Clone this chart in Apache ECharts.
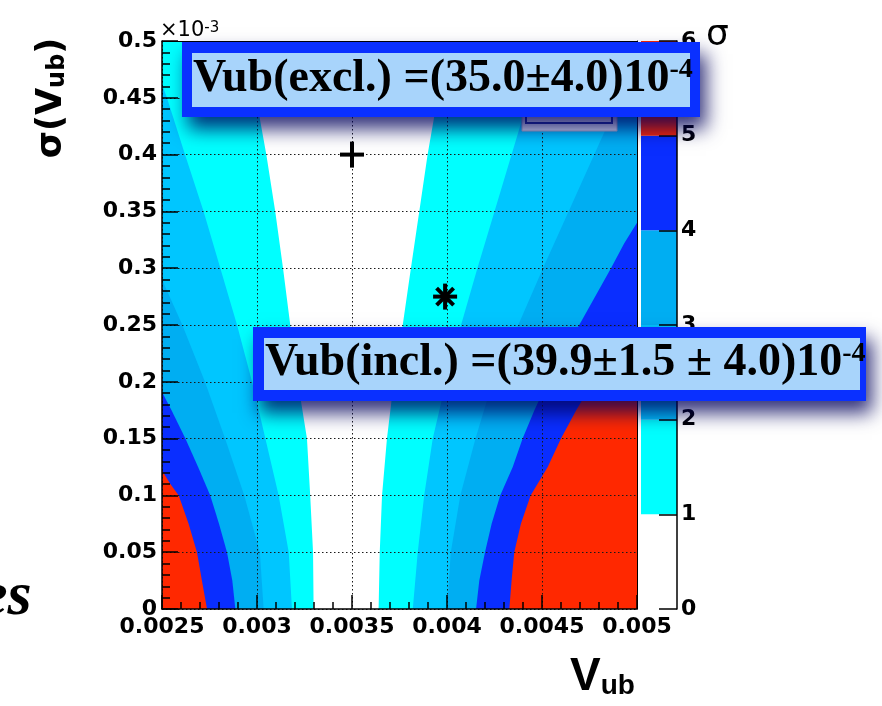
<!DOCTYPE html>
<html><head><meta charset="utf-8">
<script src="https://cdn.jsdelivr.net/npm/echarts@6/dist/echarts.min.js"></script>
<style>html,body{margin:0;padding:0;background:#fff;} #c{width:882px;height:706px;}</style>
</head><body><div id="c"></div>
<script>
// ---- tick labels ----
const xTickLabels = ['0.0025','0.003','0.0035','0.004','0.0045','0.005'];
const yTickLabels = ['0','0.05','0.1','0.15','0.2','0.25','0.3','0.35','0.4','0.45','0.5'];
const zTickLabels = ['0','1','2','3','4','5','6'];

// ---- contour boundaries, [Vub (1e-3), sigma(Vub) (1e-3)] ----
// left side: region between the left frame and the boundary has significance >= level
const left1 = [[3.298,0],[3.295,0.05],[3.28,0.1],[3.263,0.15],[3.215,0.2],[3.175,0.25],[3.137,0.3],[3.096,0.35],[3.049,0.4],[2.995,0.45],[2.945,0.5]];
const left2 = [[3.184,0],[3.167,0.05],[3.114,0.1],[3.044,0.15],[2.974,0.2],[2.895,0.25],[2.807,0.3],[2.719,0.35],[2.621,0.4],[2.526,0.45],[2.5,0.462]];
const left3 = [[3.035,0],[3.015,0.05],[2.933,0.1],[2.832,0.15],[2.726,0.2],[2.607,0.25],[2.5,0.29]];
const left4 = [[2.886,0],[2.87,0.025],[2.842,0.05],[2.80,0.075],[2.754,0.1],[2.69,0.125],[2.623,0.15],[2.55,0.175],[2.5,0.191]];
const left5 = [[2.737,0],[2.71,0.025],[2.684,0.05],[2.64,0.075],[2.588,0.1],[2.544,0.11],[2.5,0.122]];
// right side: region between the boundary and the right frame has significance >= level
const right1 = [[3.64,0],[3.646,0.05],[3.658,0.1],[3.684,0.15],[3.72,0.2],[3.767,0.25],[3.81,0.3],[3.854,0.35],[3.898,0.4],[3.95,0.45],[4.0,0.5]];
const right2 = [[3.82,0],[3.846,0.05],[3.88,0.1],[3.925,0.15],[3.995,0.2],[4.074,0.25],[4.16,0.3],[4.25,0.35],[4.34,0.4],[4.43,0.45],[4.52,0.5]];
const right3 = [[4.0,0],[4.02,0.05],[4.07,0.1],[4.15,0.15],[4.24,0.2],[4.375,0.25],[4.505,0.3],[4.64,0.35],[4.775,0.4],[4.91,0.45],[5.0,0.48]];
const right4 = [[4.153,0],[4.17,0.025],[4.2,0.05],[4.235,0.075],[4.28,0.1],[4.346,0.125],[4.398,0.15],[4.46,0.175],[4.53,0.2],[4.61,0.225],[4.696,0.25],[4.863,0.3],[4.933,0.322],[5.0,0.34]];
const right5 = [[4.328,0],[4.34,0.025],[4.354,0.05],[4.389,0.075],[4.44,0.1],[4.53,0.125],[4.6,0.15],[4.68,0.175],[4.77,0.2],[4.87,0.225],[5.0,0.248]];

const levelColors = ['#00ffff','#00c6ff','#00aef2','#0a2eff','#ff2800'];
const colorbarBounds = [0,1,2,3,4,5,6];
const colorbarColors = ['#ffffff','#00ffff','#00c6ff','#00aef2','#0a2eff','#ff2800'];

// ---- markers ----
const plusPoint = [[3.5, 0.4]];
const starPoint = [[3.99, 0.275]];

const leftBounds = [left1,left2,left3,left4,left5];
const rightBounds = [right1,right2,right3,right4,right5];

function regionSeries(points, edge, color, z) {
  return {
    type: 'custom', coordinateSystem: 'cartesian2d', xAxisIndex: 0, yAxisIndex: 0,
    z: z, silent: true, clip: true, data: points,
    renderItem: function (params, api) {
      if (params.dataIndex !== 0) return null;
      const first = points[0], last = points[points.length - 1];
      const pts = [[edge, first[1]]].concat(points, [[edge, last[1]]]).map(function (p) { return api.coord(p); });
      return { type: 'polygon', shape: { points: pts }, style: { fill: color } };
    }
  };
}

const series = [];
for (let k = 0; k < 5; k++) {
  series.push(regionSeries(leftBounds[k], 2.5, levelColors[k], 1 + k * 0.01));
  series.push(regionSeries(rightBounds[k], 5.0, levelColors[k], 1 + k * 0.01));
}
series.push({
  type: 'custom', xAxisIndex: 0, yAxisIndex: 0, z: 5, silent: true, data: plusPoint,
  renderItem: function (params, api) {
    const c = api.coord([api.value(0), api.value(1)]);
    const st = { stroke: '#000', lineWidth: 4 };
    return { type: 'group', children: [
      { type: 'line', shape: { x1: c[0] - 12, y1: c[1], x2: c[0] + 12, y2: c[1] }, style: st },
      { type: 'line', shape: { x1: c[0], y1: c[1] - 13, x2: c[0], y2: c[1] + 13 }, style: st }
    ]};
  }
});
series.push({
  type: 'custom', xAxisIndex: 0, yAxisIndex: 0, z: 5, silent: true, data: starPoint,
  renderItem: function (params, api) {
    const c = api.coord([api.value(0), api.value(1)]);
    const st = { stroke: '#000', lineWidth: 4 };
    const r = 12, d = 8.5;
    return { type: 'group', children: [
      { type: 'line', shape: { x1: c[0] - r, y1: c[1], x2: c[0] + r, y2: c[1] }, style: st },
      { type: 'line', shape: { x1: c[0], y1: c[1] - r - 1, x2: c[0], y2: c[1] + r + 1 }, style: st },
      { type: 'line', shape: { x1: c[0] - d, y1: c[1] - d, x2: c[0] + d, y2: c[1] + d }, style: st },
      { type: 'line', shape: { x1: c[0] - d, y1: c[1] + d, x2: c[0] + d, y2: c[1] - d }, style: st }
    ]};
  }
});
for (let i = 0; i < colorbarColors.length; i++) {
  series.push({
    type: 'bar', xAxisIndex: 2, yAxisIndex: 2, stack: 'cb', barWidth: '100%', silent: true,
    data: [colorbarBounds[i + 1] - colorbarBounds[i]],
    itemStyle: { color: colorbarColors[i] }
  });
}

const labelFont = { fontFamily: 'DejaVu Sans', fontWeight: 'bold', fontSize: 22, color: '#000' };
const gridLine = { show: true, lineStyle: { color: '#1a1a1a', type: [1.5, 2.5], width: 1 } };
const boxRich = {
  m: { font: 'bold 46px "Liberation Serif"', fill: '#000', color: '#000' },
  s: { font: 'bold 28px "Liberation Serif"', fill: '#000', color: '#000', verticalAlign: 'top' }
};

const option = {
  animation: false,
  backgroundColor: '#fff',
  grid: [
    { left: 162, top: 41, width: 475, height: 568 },
    { left: 641, top: 41, width: 36, height: 568 }
  ],
  xAxis: [
    { type: 'value', gridIndex: 0, min: 2.5, max: 5.0, interval: 0.5, z: 3,
      axisLine: { show: true, onZero: false, lineStyle: { color: '#000', width: 1.5 } },
      axisTick: { show: true, inside: true, length: 14, lineStyle: { color: '#000', width: 1.5 } },
      minorTick: { show: true, splitNumber: 5, length: 7, lineStyle: { color: '#000', width: 1.5 } },
      splitLine: gridLine,
      axisLabel: Object.assign({ margin: 7, formatter: function (v) { return xTickLabels[Math.round((v - 2.5) / 0.5)]; } }, labelFont) },
    { type: 'value', gridIndex: 0, min: 2.5, max: 5.0, position: 'top', z: 3,
      axisLine: { show: true, onZero: false, lineStyle: { color: '#000', width: 1 } },
      axisTick: { show: false }, axisLabel: { show: false }, splitLine: { show: false } },
    { type: 'category', gridIndex: 1, data: ['σ'], show: false }
  ],
  yAxis: [
    { type: 'value', gridIndex: 0, min: 0, max: 0.5, interval: 0.05, z: 3,
      axisLine: { show: true, onZero: false, lineStyle: { color: '#000', width: 1.5 } },
      axisTick: { show: true, inside: true, length: 16, lineStyle: { color: '#000', width: 1.5 } },
      minorTick: { show: true, splitNumber: 5, length: 8, lineStyle: { color: '#000', width: 1.5 } },
      splitLine: gridLine,
      axisLabel: Object.assign({ margin: 5, padding: [6, 0, 0, 0], formatter: function (v) { return yTickLabels[Math.round(v / 0.05)]; } }, labelFont) },
    { type: 'value', gridIndex: 0, min: 0, max: 0.5, position: 'right', z: 3,
      axisLine: { show: true, onZero: false, lineStyle: { color: '#000', width: 1 } },
      axisTick: { show: false }, axisLabel: { show: false }, splitLine: { show: false } },
    { type: 'value', gridIndex: 1, min: 0, max: 6, interval: 1, position: 'right', z: 3,
      axisLine: { show: true, lineStyle: { color: '#000', width: 1.5 } },
      axisTick: { show: true, inside: true, length: 18, lineStyle: { color: '#000', width: 1.5 } },
      splitLine: { show: false },
      axisLabel: Object.assign({ margin: 4, padding: [8, 0, 0, 0], formatter: function (v) { return zTickLabels[Math.round(v)]; } }, labelFont) }
  ],
  series: series,
  graphic: [
    // partly hidden legend box
    { type: 'rect', z: 90, shape: { x: 522, y: 100, width: 95, height: 31 }, style: { fill: '#dfe4f2', stroke: '#aab2cc', lineWidth: 1 } },
    { type: 'rect', z: 91, shape: { x: 526, y: 100, width: 86, height: 23 }, style: { fill: '#eef1f8', stroke: '#28389a', lineWidth: 2 } },
    // box 1
    { type: 'rect', z: 100, shape: { x: 182, y: 42, width: 518, height: 75 },
      style: { fill: '#0a30ff', shadowBlur: 18, shadowColor: 'rgba(0,0,90,0.8)', shadowOffsetX: 6, shadowOffsetY: 12 } },
    { type: 'rect', z: 101, shape: { x: 192, y: 53, width: 498, height: 54 }, style: { fill: '#a8d4fb' } },
    { type: 'text', z: 102, x: 193, y: 79,
      style: { text: '{m|Vub(excl.) =(35.0±4.0)10}{s|-4}', verticalAlign: 'middle', align: 'left', rich: boxRich } },
    // box 2
    { type: 'rect', z: 100, shape: { x: 253, y: 327, width: 613, height: 74 },
      style: { fill: '#0a30ff', shadowBlur: 18, shadowColor: 'rgba(0,0,90,0.8)', shadowOffsetX: 6, shadowOffsetY: 12 } },
    { type: 'rect', z: 101, shape: { x: 264, y: 338, width: 596, height: 52 }, style: { fill: '#a8d4fb' } },
    { type: 'text', z: 102, x: 265, y: 363,
      style: { text: '{m|Vub(incl.) =(39.9±1.5 ± 4.0)10}{s|-4}', verticalAlign: 'middle', align: 'left', rich: boxRich } },
    // axis titles and decorations
    { type: 'text', z: 50, x: 52, y: 98, rotation: Math.PI / 2,
      style: { text: '{a|σ(V}{b|ub}{a|)}', align: 'center', verticalAlign: 'middle',
        rich: { a: { font: 'bold 35px "DejaVu Sans"', fill: '#000' },
                b: { font: 'bold 24px "DejaVu Sans"', fill: '#000', verticalAlign: 'bottom' } } } },
    { type: 'text', z: 50, x: 570, y: 677,
      style: { text: '{a|V}{b|ub}', align: 'left', verticalAlign: 'middle',
        rich: { a: { font: 'bold 46px "Liberation Sans"', fill: '#000' },
                b: { font: 'bold 28px "Liberation Sans"', fill: '#000', verticalAlign: 'bottom' } } } },
    { type: 'text', z: 50, x: 706, y: 36,
      style: { text: 'σ', font: '36px "DejaVu Sans"', fill: '#000', align: 'left', verticalAlign: 'middle' } },
    { type: 'text', z: 50, x: 160, y: 31,
      style: { text: '{a|×10}{b|-3}', align: 'left', verticalAlign: 'middle',
        rich: { a: { font: '21px "DejaVu Sans"', fill: '#000' },
                b: { font: '15px "DejaVu Sans"', fill: '#000', verticalAlign: 'top' } } } },
    { type: 'text', z: 50, x: -20, y: 598,
      style: { text: 'es', font: 'italic bold 62px "Liberation Serif"', fill: '#000', align: 'left', verticalAlign: 'middle' } }
  ]
};

echarts.init(document.getElementById('c'), null, { renderer: 'canvas' }).setOption(option);
</script>
</body></html>
